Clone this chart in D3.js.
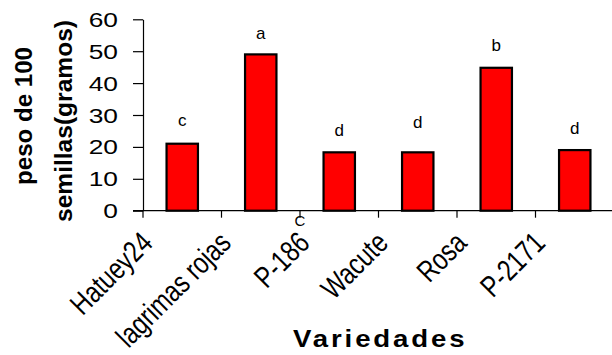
<!DOCTYPE html>
<html><head><meta charset="utf-8">
<script src="https://cdn.jsdelivr.net/npm/d3@7"></script>
<style>html,body{margin:0;padding:0;background:#fff;}svg{display:block;font-family:"Liberation Sans",Arial,sans-serif;}</style>
</head><body>
<script>
const categories = ["Hatuey24","lagrimas rojas","P-186","Wacute","Rosa","P-2171"];
const values = [21, 49, 18.3, 18.3, 44.8, 19];
const letters = ["c","a","d","d","b","d"];
const letterY = [28.4, 55.7, 25.3, 27.8, 51.9, 25.9];
const yTicks = [0,10,20,30,40,50,60];
const yTitle = ["peso de 100","semillas(gramos)"];
const xTitle = "Variedades";
const strayLabel = "C";

const W=612,H=355;
const svg=d3.select("body").append("svg").attr("width",W).attr("height",H);
const x0=143, y0=210.7, yTop=19.3;
const x=d3.scaleBand().domain(categories).range([x0, x0+6*78.5]).padding(0);
const y=d3.scaleLinear().domain([0,60]).range([y0,yTop]);

// y axis
const ya=svg.append("g").attr("transform",`translate(${x0},0)`)
  .call(d3.axisLeft(y).tickValues(yTicks).tickSize(10).tickSizeOuter(0).tickFormat(d3.format("d")));
ya.select(".domain").attr("stroke","#000").attr("stroke-width",1.2);
ya.selectAll(".tick line").attr("stroke","#000").attr("stroke-width",1.2);
ya.selectAll(".tick text").remove();
ya.selectAll(".tick").append("text")
  .attr("transform","translate(-25,0) scale(1.35,1)")
  .attr("text-anchor","end").attr("dy","0.36em")
  .attr("font-size",19.5).attr("fill","#000")
  .text(d=>d);

// x axis
const xa=svg.append("g").attr("transform",`translate(0,${y0})`);
xa.append("line").attr("x1",x0-10).attr("x2",W).attr("y1",0).attr("y2",0).attr("stroke","#000").attr("stroke-width",1.2);
xa.selectAll("line.tk").data(categories).join("line").attr("class","tk")
  .attr("x1",d=>x(d)).attr("x2",d=>x(d)).attr("y1",0).attr("y2",7)
  .attr("stroke","#000").attr("stroke-width",1.2);

// bars
const bw=x.bandwidth()*0.4;
svg.selectAll("rect.bar").data(categories).join("rect").attr("class","bar")
  .attr("x",d=>x(d)+x.bandwidth()/2-bw/2).attr("width",bw)
  .attr("y",(d,i)=>y(values[i])).attr("height",(d,i)=>y0-y(values[i]))
  .attr("fill","#ff0000").attr("stroke","#000").attr("stroke-width",2.2);

// letters
svg.selectAll("text.let").data(categories).join("text").attr("class","let")
  .attr("x",d=>x(d)+x.bandwidth()/2).attr("y",(d,i)=>y(letterY[i]))
  .attr("dy","0.36em").attr("text-anchor","middle").attr("font-size",17).attr("fill","#000")
  .text((d,i)=>letters[i]);

// stray C
svg.append("text").attr("x",x(categories[2])).attr("y",y0+15).attr("text-anchor","middle")
  .attr("font-size",15).attr("fill","#000").text(strayLabel);

// x labels
svg.selectAll("text.xl").data(categories).join("text").attr("class","xl")
  .attr("transform",d=>`translate(${x(d)+x.bandwidth()/2-28},${y0+34}) rotate(-45) scale(0.79,1)`)
  .attr("text-anchor","end").attr("font-size",30).attr("fill","#000").text(d=>d);

// x title
svg.append("text").attr("transform","translate(293,347) scale(1.2,1)").attr("font-size",23).attr("font-weight","bold")
  .attr("textLength",143).attr("lengthAdjust","spacing").attr("fill","#000").text(xTitle);

// y title
svg.append("text").attr("transform","translate(32,116) rotate(-90)").attr("text-anchor","middle")
  .attr("font-size",23).attr("font-weight","bold").attr("textLength",138).attr("lengthAdjust","spacingAndGlyphs")
  .attr("fill","#000").text(yTitle[0]);
svg.append("text").attr("transform","translate(72,121) rotate(-90)").attr("text-anchor","middle")
  .attr("font-size",23).attr("font-weight","bold").attr("textLength",202).attr("lengthAdjust","spacingAndGlyphs")
  .attr("fill","#000").text(yTitle[1]);
</script>
</body></html>
